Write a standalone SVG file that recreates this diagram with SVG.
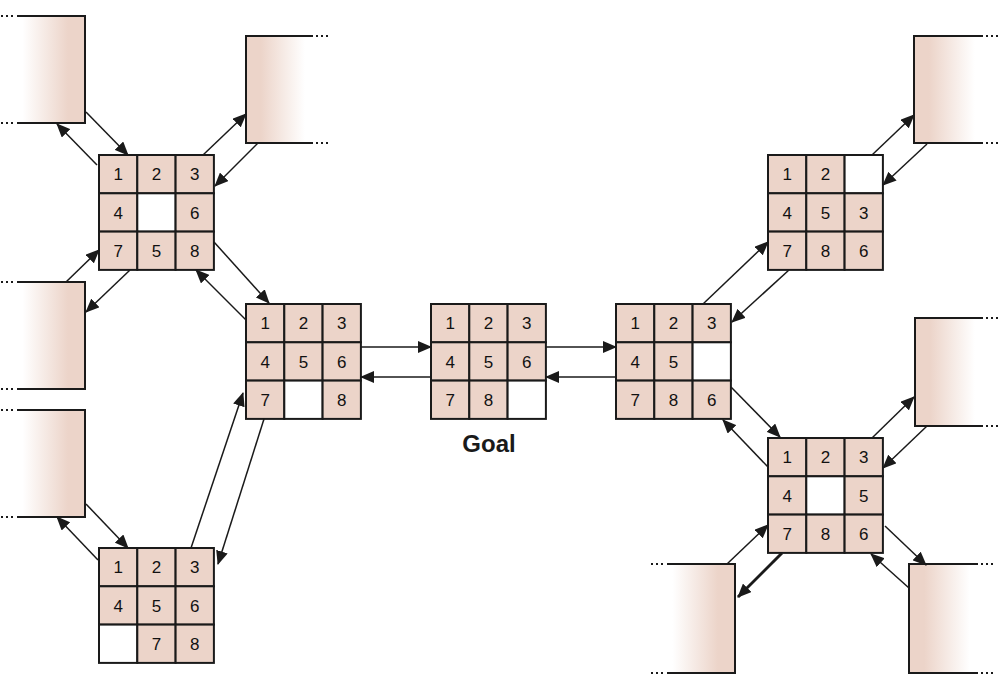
<svg xmlns="http://www.w3.org/2000/svg" width="1000" height="698" viewBox="0 0 1000 698">
<defs>
<style>
.c{fill:#ecd4c9;stroke:#1a1a1a;stroke-width:2}
.e{fill:#ffffff;stroke:#1a1a1a;stroke-width:2}
.t{font-family:"Liberation Sans",Arial,sans-serif;font-size:17px;fill:#111111;text-anchor:middle}
.goal{font-family:"Liberation Sans",Arial,sans-serif;font-size:24px;font-weight:bold;fill:#1a1a1a;text-anchor:middle}
.edge{fill:none;stroke:#1a1a1a;stroke-width:2}
.dots{fill:none;stroke:#1a1a1a;stroke-width:2;stroke-dasharray:2 3}
.a{fill:none;stroke:#1a1a1a;stroke-width:1.5;marker-end:url(#ah)}
.ab{fill:none;stroke:#1a1a1a;stroke-width:3;marker-end:url(#ah)}
</style>
<marker id="ah" markerUnits="userSpaceOnUse" markerWidth="14" markerHeight="12" viewBox="0 0 14 12" refX="13" refY="6" orient="auto">
<path d="M0,0 L14,6 L0,12 Z" fill="#1a1a1a"/>
</marker>
<linearGradient id="gR" x1="0" y1="0" x2="1" y2="0">
<stop offset="0" stop-color="#ffffff"/>
<stop offset="0.08" stop-color="#ffffff"/>
<stop offset="0.75" stop-color="#ecd4c9"/>
<stop offset="1" stop-color="#ecd4c9"/>
</linearGradient>
<linearGradient id="gL" x1="0" y1="0" x2="1" y2="0">
<stop offset="0" stop-color="#ecd4c9"/>
<stop offset="0.22" stop-color="#ecd4c9"/>
<stop offset="0.88" stop-color="#ffffff"/>
<stop offset="1" stop-color="#ffffff"/>
</linearGradient>
</defs>

<!-- partial stub nodes -->
<g id="stubA">
<rect x="17" y="16" width="68" height="107" fill="url(#gR)"/>
<path class="edge" d="M17,16 H85 V123 H17"/>
<path class="dots" d="M1,16 H15 M1,123 H15"/>
</g>
<g id="stubB">
<rect x="246" y="36" width="67" height="107" fill="url(#gL)"/>
<path class="edge" d="M313,36 H246 V143 H313"/>
<path class="dots" d="M316,36 H330 M316,143 H330"/>
</g>
<g id="stubC">
<rect x="17" y="282" width="68" height="107" fill="url(#gR)"/>
<path class="edge" d="M17,282 H85 V389 H17"/>
<path class="dots" d="M1,282 H15 M1,389 H15"/>
</g>
<g id="stubD">
<rect x="17" y="410" width="68" height="107" fill="url(#gR)"/>
<path class="edge" d="M17,410 H85 V517 H17"/>
<path class="dots" d="M1,410 H15 M1,517 H15"/>
</g>
<g id="stubTR">
<rect x="914" y="36" width="69" height="107" fill="url(#gL)"/>
<path class="edge" d="M983,36 H914 V143 H983"/>
<path class="dots" d="M986,36 H1000 M986,143 H1000"/>
</g>
<g id="stubMR">
<rect x="915" y="318" width="68" height="108" fill="url(#gL)"/>
<path class="edge" d="M983,318 H915 V426 H983"/>
<path class="dots" d="M986,318 H1000 M986,426 H1000"/>
</g>
<g id="stubBL">
<rect x="667" y="564" width="68" height="109" fill="url(#gR)"/>
<path class="edge" d="M667,564 H735 V673 H667"/>
<path class="dots" d="M651,564 H665 M651,673 H665"/>
</g>
<g id="stubBR">
<rect x="909" y="564" width="69" height="109" fill="url(#gL)"/>
<path class="edge" d="M978,564 H909 V673 H978"/>
<path class="dots" d="M981,564 H995 M981,673 H995"/>
</g>

<!-- puzzle nodes -->
<g id="gridTL" transform="translate(99,155)">
<rect class="c" x="0" y="0" width="38.3" height="38.3"/><rect class="c" x="38.3" y="0" width="38.3" height="38.3"/><rect class="c" x="76.6" y="0" width="38.3" height="38.3"/>
<rect class="c" x="0" y="38.3" width="38.3" height="38.3"/><rect class="e" x="38.3" y="38.3" width="38.3" height="38.3"/><rect class="c" x="76.6" y="38.3" width="38.3" height="38.3"/>
<rect class="c" x="0" y="76.6" width="38.3" height="38.3"/><rect class="c" x="38.3" y="76.6" width="38.3" height="38.3"/><rect class="c" x="76.6" y="76.6" width="38.3" height="38.3"/>
<text class="t" x="19.2" y="25.2">1</text><text class="t" x="57.5" y="25.2">2</text><text class="t" x="95.8" y="25.2">3</text>
<text class="t" x="19.2" y="63.5">4</text><text class="t" x="95.8" y="63.5">6</text>
<text class="t" x="19.2" y="101.8">7</text><text class="t" x="57.5" y="101.8">5</text><text class="t" x="95.8" y="101.8">8</text>
</g>
<g id="gridL" transform="translate(246,304)">
<rect class="c" x="0" y="0" width="38.3" height="38.3"/><rect class="c" x="38.3" y="0" width="38.3" height="38.3"/><rect class="c" x="76.6" y="0" width="38.3" height="38.3"/>
<rect class="c" x="0" y="38.3" width="38.3" height="38.3"/><rect class="c" x="38.3" y="38.3" width="38.3" height="38.3"/><rect class="c" x="76.6" y="38.3" width="38.3" height="38.3"/>
<rect class="c" x="0" y="76.6" width="38.3" height="38.3"/><rect class="e" x="38.3" y="76.6" width="38.3" height="38.3"/><rect class="c" x="76.6" y="76.6" width="38.3" height="38.3"/>
<text class="t" x="19.2" y="25.2">1</text><text class="t" x="57.5" y="25.2">2</text><text class="t" x="95.8" y="25.2">3</text>
<text class="t" x="19.2" y="63.5">4</text><text class="t" x="57.5" y="63.5">5</text><text class="t" x="95.8" y="63.5">6</text>
<text class="t" x="19.2" y="101.8">7</text><text class="t" x="95.8" y="101.8">8</text>
</g>
<g id="gridGoal" transform="translate(431,304)">
<rect class="c" x="0" y="0" width="38.3" height="38.3"/><rect class="c" x="38.3" y="0" width="38.3" height="38.3"/><rect class="c" x="76.6" y="0" width="38.3" height="38.3"/>
<rect class="c" x="0" y="38.3" width="38.3" height="38.3"/><rect class="c" x="38.3" y="38.3" width="38.3" height="38.3"/><rect class="c" x="76.6" y="38.3" width="38.3" height="38.3"/>
<rect class="c" x="0" y="76.6" width="38.3" height="38.3"/><rect class="c" x="38.3" y="76.6" width="38.3" height="38.3"/><rect class="e" x="76.6" y="76.6" width="38.3" height="38.3"/>
<text class="t" x="19.2" y="25.2">1</text><text class="t" x="57.5" y="25.2">2</text><text class="t" x="95.8" y="25.2">3</text>
<text class="t" x="19.2" y="63.5">4</text><text class="t" x="57.5" y="63.5">5</text><text class="t" x="95.8" y="63.5">6</text>
<text class="t" x="19.2" y="101.8">7</text><text class="t" x="57.5" y="101.8">8</text>
<text class="goal" x="58" y="148">Goal</text>
</g>
<g id="gridR" transform="translate(616,304)">
<rect class="c" x="0" y="0" width="38.3" height="38.3"/><rect class="c" x="38.3" y="0" width="38.3" height="38.3"/><rect class="c" x="76.6" y="0" width="38.3" height="38.3"/>
<rect class="c" x="0" y="38.3" width="38.3" height="38.3"/><rect class="c" x="38.3" y="38.3" width="38.3" height="38.3"/><rect class="e" x="76.6" y="38.3" width="38.3" height="38.3"/>
<rect class="c" x="0" y="76.6" width="38.3" height="38.3"/><rect class="c" x="38.3" y="76.6" width="38.3" height="38.3"/><rect class="c" x="76.6" y="76.6" width="38.3" height="38.3"/>
<text class="t" x="19.2" y="25.2">1</text><text class="t" x="57.5" y="25.2">2</text><text class="t" x="95.8" y="25.2">3</text>
<text class="t" x="19.2" y="63.5">4</text><text class="t" x="57.5" y="63.5">5</text>
<text class="t" x="19.2" y="101.8">7</text><text class="t" x="57.5" y="101.8">8</text><text class="t" x="95.8" y="101.8">6</text>
</g>
<g id="gridTR" transform="translate(768,155)">
<rect class="c" x="0" y="0" width="38.3" height="38.3"/><rect class="c" x="38.3" y="0" width="38.3" height="38.3"/><rect class="e" x="76.6" y="0" width="38.3" height="38.3"/>
<rect class="c" x="0" y="38.3" width="38.3" height="38.3"/><rect class="c" x="38.3" y="38.3" width="38.3" height="38.3"/><rect class="c" x="76.6" y="38.3" width="38.3" height="38.3"/>
<rect class="c" x="0" y="76.6" width="38.3" height="38.3"/><rect class="c" x="38.3" y="76.6" width="38.3" height="38.3"/><rect class="c" x="76.6" y="76.6" width="38.3" height="38.3"/>
<text class="t" x="19.2" y="25.2">1</text><text class="t" x="57.5" y="25.2">2</text>
<text class="t" x="19.2" y="63.5">4</text><text class="t" x="57.5" y="63.5">5</text><text class="t" x="95.8" y="63.5">3</text>
<text class="t" x="19.2" y="101.8">7</text><text class="t" x="57.5" y="101.8">8</text><text class="t" x="95.8" y="101.8">6</text>
</g>
<g id="gridBR" transform="translate(768,438)">
<rect class="c" x="0" y="0" width="38.3" height="38.3"/><rect class="c" x="38.3" y="0" width="38.3" height="38.3"/><rect class="c" x="76.6" y="0" width="38.3" height="38.3"/>
<rect class="c" x="0" y="38.3" width="38.3" height="38.3"/><rect class="e" x="38.3" y="38.3" width="38.3" height="38.3"/><rect class="c" x="76.6" y="38.3" width="38.3" height="38.3"/>
<rect class="c" x="0" y="76.6" width="38.3" height="38.3"/><rect class="c" x="38.3" y="76.6" width="38.3" height="38.3"/><rect class="c" x="76.6" y="76.6" width="38.3" height="38.3"/>
<text class="t" x="19.2" y="25.2">1</text><text class="t" x="57.5" y="25.2">2</text><text class="t" x="95.8" y="25.2">3</text>
<text class="t" x="19.2" y="63.5">4</text><text class="t" x="95.8" y="63.5">5</text>
<text class="t" x="19.2" y="101.8">7</text><text class="t" x="57.5" y="101.8">8</text><text class="t" x="95.8" y="101.8">6</text>
</g>
<g id="gridBL" transform="translate(99,548)">
<rect class="c" x="0" y="0" width="38.3" height="38.3"/><rect class="c" x="38.3" y="0" width="38.3" height="38.3"/><rect class="c" x="76.6" y="0" width="38.3" height="38.3"/>
<rect class="c" x="0" y="38.3" width="38.3" height="38.3"/><rect class="c" x="38.3" y="38.3" width="38.3" height="38.3"/><rect class="c" x="76.6" y="38.3" width="38.3" height="38.3"/>
<rect class="e" x="0" y="76.6" width="38.3" height="38.3"/><rect class="c" x="38.3" y="76.6" width="38.3" height="38.3"/><rect class="c" x="76.6" y="76.6" width="38.3" height="38.3"/>
<text class="t" x="19.2" y="25.2">1</text><text class="t" x="57.5" y="25.2">2</text><text class="t" x="95.8" y="25.2">3</text>
<text class="t" x="19.2" y="63.5">4</text><text class="t" x="57.5" y="63.5">5</text><text class="t" x="95.8" y="63.5">6</text>
<text class="t" x="57.5" y="101.8">7</text><text class="t" x="95.8" y="101.8">8</text>
</g>

<!-- connectors -->
<g id="connectors">
<line class="a" x1="86" y1="112" x2="128" y2="155"/>
<line class="a" x1="97" y1="165" x2="57" y2="124"/>
<line class="a" x1="203" y1="155" x2="246" y2="114"/>
<line class="a" x1="258" y1="143" x2="215" y2="186"/>
<line class="a" x1="66" y1="282" x2="99" y2="250"/>
<line class="a" x1="130" y1="270" x2="86" y2="312"/>
<line class="a" x1="214" y1="242" x2="269" y2="303"/>
<line class="a" x1="246" y1="320" x2="196" y2="270"/>
<line class="a" x1="191" y1="548" x2="243" y2="393"/>
<line class="a" x1="264" y1="419" x2="218" y2="564"/>
<line class="a" x1="86" y1="504" x2="128" y2="548"/>
<line class="a" x1="98" y1="560" x2="57" y2="517"/>
<line class="a" x1="361" y1="347" x2="431" y2="347"/>
<line class="a" x1="431" y1="377" x2="361" y2="377"/>
<line class="a" x1="546" y1="347" x2="616" y2="347"/>
<line class="a" x1="616" y1="377" x2="546" y2="377"/>
<line class="a" x1="703" y1="304" x2="768" y2="242"/>
<line class="a" x1="789" y1="270" x2="732" y2="322"/>
<line class="a" x1="872" y1="155" x2="914" y2="115"/>
<line class="a" x1="927" y1="144" x2="883" y2="185"/>
<line class="a" x1="731" y1="387" x2="780" y2="437"/>
<line class="a" x1="768" y1="467" x2="723" y2="420"/>
<line class="a" x1="872" y1="438" x2="914" y2="397"/>
<line class="a" x1="927" y1="426" x2="883" y2="468"/>
<line class="a" x1="727" y1="564" x2="768" y2="525"/>
<line class="ab" x1="782" y1="553" x2="738" y2="597"/>
<line class="a" x1="885" y1="526" x2="926" y2="565"/>
<line class="a" x1="909" y1="588" x2="871" y2="554"/>
</g>
</svg>
